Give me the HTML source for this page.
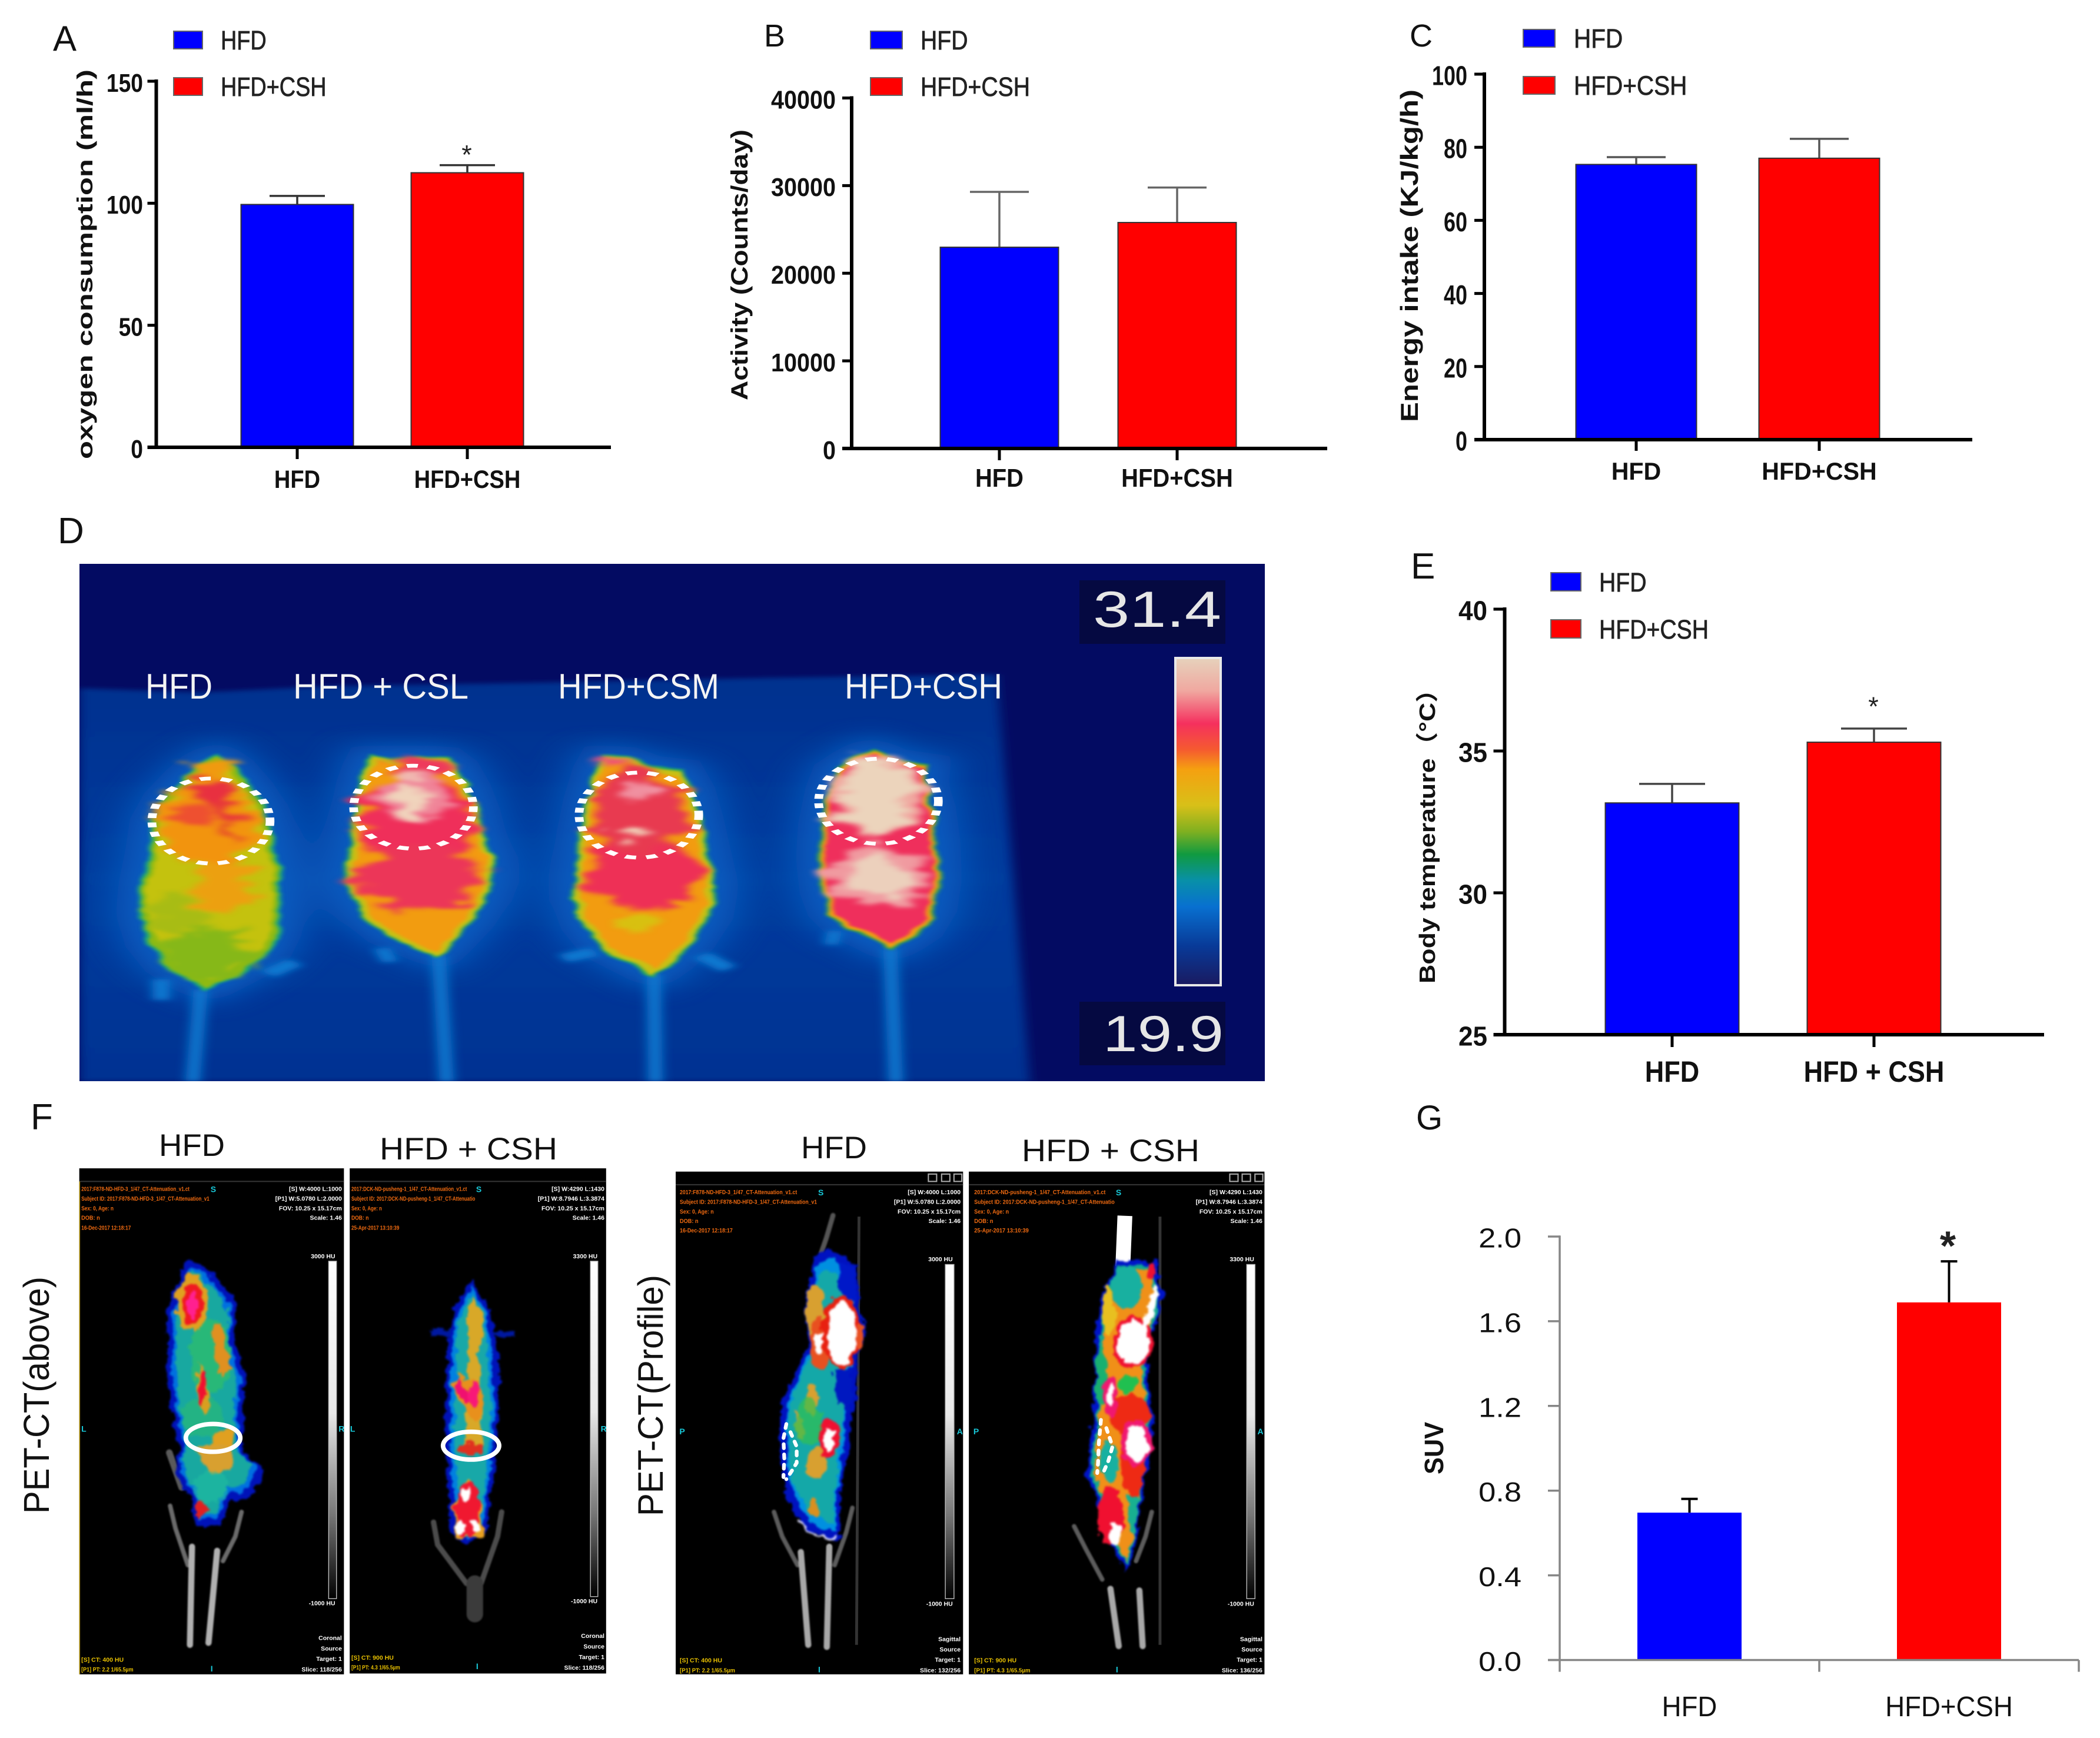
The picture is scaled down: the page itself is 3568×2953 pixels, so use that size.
<!DOCTYPE html>
<html lang="en">
<head>
<meta charset="utf-8">
<title>HFD and CSH metabolic panels</title>
<style>
html,body{margin:0;padding:0;background:#fff;}
svg{display:block;}
text{font-family:"Liberation Sans","Noto Sans CJK SC",sans-serif;}
</style>
</head>
<body>
<svg id="figure" xmlns="http://www.w3.org/2000/svg" width="3568" height="2953" viewBox="0 0 3568 2953">
<defs>
  <filter id="b2" filterUnits="userSpaceOnUse" x="-500" y="-500" width="4000" height="4000"><feGaussianBlur stdDeviation="2"/></filter>
  <filter id="b4" filterUnits="userSpaceOnUse" x="-500" y="-500" width="4000" height="4000"><feGaussianBlur stdDeviation="4"/></filter>
  <filter id="b7" filterUnits="userSpaceOnUse" x="-500" y="-500" width="4000" height="4000"><feGaussianBlur stdDeviation="7"/></filter>
  <filter id="b28" filterUnits="userSpaceOnUse" x="-500" y="-500" width="4000" height="4000"><feGaussianBlur stdDeviation="28"/></filter>
  <filter id="rough" filterUnits="userSpaceOnUse" x="0" y="300" width="1400" height="1300" color-interpolation-filters="sRGB">
    <feTurbulence type="fractalNoise" baseFrequency=".012 .022" numOctaves="3" seed="7" result="n"/>
    <feDisplacementMap in="SourceGraphic" in2="n" scale="18" xChannelSelector="R" yChannelSelector="G"/>
    <feGaussianBlur stdDeviation="3"/>
  </filter>
  <filter id="fur" filterUnits="userSpaceOnUse" x="0" y="300" width="1400" height="1300" color-interpolation-filters="sRGB">
    <feTurbulence type="fractalNoise" baseFrequency=".02 .035" numOctaves="3" seed="11" result="n"/>
    <feDisplacementMap in="SourceGraphic" in2="n" scale="75" xChannelSelector="R" yChannelSelector="G"/>
    <feGaussianBlur stdDeviation="5"/>
  </filter>
  <filter id="petr" filterUnits="userSpaceOnUse" x="100" y="150" width="1500" height="1300" color-interpolation-filters="sRGB">
    <feTurbulence type="fractalNoise" baseFrequency=".04" numOctaves="3" seed="3" result="n"/>
    <feDisplacementMap in="SourceGraphic" in2="n" scale="26" xChannelSelector="R" yChannelSelector="G"/>
    <feGaussianBlur stdDeviation="2.5"/>
  </filter>
  <linearGradient id="thermal-scale" x1="0" y1="0" x2="0" y2="1">
    <stop offset="0" stop-color="#e6d2bc"/><stop offset=".1" stop-color="#f0a8a0"/><stop offset=".2" stop-color="#f5305e"/>
    <stop offset=".28" stop-color="#f55a30"/><stop offset=".34" stop-color="#f5a010"/><stop offset=".45" stop-color="#d8c018"/>
    <stop offset=".53" stop-color="#80b020"/><stop offset=".6" stop-color="#109a40"/><stop offset=".68" stop-color="#0890a8"/>
    <stop offset=".76" stop-color="#0870d0"/><stop offset=".88" stop-color="#083a98"/><stop offset="1" stop-color="#1a1a60"/>
  </linearGradient>
  <linearGradient id="pet-scale" x1="0" y1="0" x2="0" y2="1">
    <stop offset="0" stop-color="#fff"/><stop offset=".45" stop-color="#e8e8e8"/><stop offset=".75" stop-color="#777"/><stop offset="1" stop-color="#000"/>
  </linearGradient>
  <linearGradient id="floor-blue" x1="0" y1="0" x2="0" y2="1">
    <stop offset="0" stop-color="#04308e"/><stop offset=".5" stop-color="#023c9e"/><stop offset="1" stop-color="#023292"/>
  </linearGradient>
  <clipPath id="thermal-clip"><rect x="135" y="958" width="2014" height="879"/></clipPath>
  <polygon id="m1" points="200,595 222,630 245,690 262,750 272,820 278,900 283,980 285,1060 280,1120 268,1175 245,1220 215,1255 190,1285 165,1260 135,1215 112,1150 100,1060 104,970 112,880 118,790 135,720 160,660 180,620"/>
  <polygon id="m2" points="395,600 420,610 455,598 490,605 505,630 520,690 532,760 540,830 552,900 553,960 545,1020 525,1090 500,1150 482,1190 450,1160 415,1125 385,1070 365,1000 362,940 368,850 372,770 380,680 388,630"/>
  <polygon id="m3" points="690,600 720,605 750,630 790,640 805,700 815,780 825,880 835,980 828,1070 805,1150 780,1205 755,1245 725,1210 690,1170 665,1100 652,1020 655,920 660,820 668,730 680,640"/>
  <polygon id="m4" points="1030,580 1060,610 1105,625 1100,680 1110,750 1116,850 1118,960 1112,1050 1095,1115 1075,1145 1055,1170 1030,1140 1000,1110 978,1060 968,1000 963,900 966,800 975,700 985,640 1005,610"/>
  <polygon id="p1" points="460,405 520,450 565,510 560,590 590,700 580,800 590,880 635,920 610,975 550,990 530,1050 480,1050 470,990 430,930 440,870 420,760 410,640 410,520"/>
  <polygon id="p2" points="1145,465 1180,520 1195,600 1205,750 1195,900 1185,980 1170,1070 1130,1092 1100,1070 1095,980 1085,900 1085,750 1090,600 1105,520"/>
  <polygon id="p3" points="470,380 535,420 540,520 552,590 530,650 525,750 510,850 490,1000 492,1085 420,1060 370,980 355,900 355,760 390,680 420,620 415,500 440,400"/>
  <polygon id="p4" points="1170,410 1260,410 1272,500 1245,600 1235,700 1252,800 1240,900 1220,1000 1210,1100 1188,1160 1130,1060 1112,960 1095,935 1110,800 1115,650 1130,500"/>
</defs>
<rect width="3568" height="2953" fill="#fff"/>

<g id="panel-a"></g>
<g id="panel-b"></g>
<g id="panel-c"></g>
<g id="panel-e"></g>
<g id="panel-g"></g>

<g fill="#111">
  <text x="90" y="86" font-size="60">A</text>
  <text x="1298" y="79" font-size="54">B</text>
  <text x="2395" y="79" font-size="54">C</text>
  <text x="98" y="923" font-size="62">D</text>
  <text x="2397" y="983" font-size="62">E</text>
  <text x="52" y="1919" font-size="62">F</text>
  <text x="2406" y="1919" font-size="58">G</text>
</g>

<!-- Panel D: thermal image -->
<g clip-path="url(#thermal-clip)">
  <rect x="135" y="958" width="2014" height="879" fill="#030b62"/>
  <g transform="translate(100,930) scale(1.339,.587)">
    <polygon points="26,408 180,420 340,402 600,392 900,378 1190,368 1232,1546 26,1546" fill="url(#floor-blue)" filter="url(#b7)"/>
    <g filter="url(#b28)" fill="#0868cc" stroke="#0868cc" stroke-width="56" opacity=".8">
      <use href="#m1"/><use href="#m2"/><use href="#m3"/><use href="#m4"/>
    </g>
    <g filter="url(#b7)" stroke="#0a78d0" fill="none" stroke-width="18">
      <line x1="180" y1="1280" x2="170" y2="1546"/><line x1="482" y1="1180" x2="492" y2="1546"/>
      <line x1="755" y1="1235" x2="757" y2="1546"/><line x1="1055" y1="1160" x2="1062" y2="1546"/>
      <line x1="265" y1="1235" x2="300" y2="1200" stroke-width="26"/><line x1="680" y1="1170" x2="640" y2="1190" stroke-width="26"/>
      <line x1="815" y1="1180" x2="850" y2="1220" stroke-width="26"/><line x1="130" y1="1250" x2="130" y2="1310" stroke-width="22"/>
      <line x1="410" y1="1160" x2="420" y2="1200" stroke-width="20"/><line x1="985" y1="1110" x2="980" y2="1150" stroke-width="18"/>
    </g>
    <g filter="url(#rough)">
      <use href="#m1" fill="#18a878"/>
      <use href="#m1" fill="#8fba12" transform="translate(192,950) scale(.95,.98) translate(-192,-950)"/>
      <use href="#m1" fill="#c4c20e" transform="translate(192,930) scale(.88,.92) translate(-192,-930)"/>
      <g filter="url(#fur)">
        <ellipse cx="190" cy="1175" rx="62" ry="70" fill="#86b818"/>
        <ellipse cx="150" cy="1060" rx="28" ry="70" fill="#a8bc14"/>
        <ellipse cx="195" cy="655" rx="26" ry="50" fill="#f09a10"/>
        <ellipse cx="190" cy="800" rx="68" ry="115" fill="#f2940e"/>
        <ellipse cx="212" cy="985" rx="36" ry="80" fill="#eca010"/>
        <ellipse cx="195" cy="710" rx="26" ry="36" fill="#e83040"/>
        <ellipse cx="172" cy="775" rx="24" ry="30" fill="#ee5030"/>
        <ellipse cx="215" cy="755" rx="18" ry="28" fill="#e83a38"/>
        <ellipse cx="214" cy="825" rx="12" ry="26" fill="#e85028"/>
      </g>
    </g>
    <g filter="url(#rough)">
      <use href="#m2" fill="#20a860"/>
      <use href="#m2" fill="#c8c014" transform="translate(458,900) scale(.96,.98) translate(-458,-900)"/>
      <use href="#m2" fill="#f29c10" transform="translate(458,890) scale(.88,.93) translate(-458,-890)"/>
      <g filter="url(#fur)">
        <ellipse cx="455" cy="640" rx="40" ry="36" fill="#ee3a5c"/>
        <ellipse cx="455" cy="790" rx="74" ry="125" fill="#ef2f5a"/>
        <ellipse cx="460" cy="955" rx="78" ry="90" fill="#ec3658"/>
        <ellipse cx="450" cy="720" rx="46" ry="70" fill="#f08498"/>
        <ellipse cx="445" cy="740" rx="22" ry="46" fill="#f0d4bc"/>
        <ellipse cx="440" cy="660" rx="34" ry="18" fill="#f0b8b0"/>
      </g>
    </g>
    <g filter="url(#rough)">
      <use href="#m3" fill="#20a860"/>
      <use href="#m3" fill="#c8c014" transform="translate(740,920) scale(.96,.98) translate(-740,-920)"/>
      <use href="#m3" fill="#f29c10" transform="translate(740,910) scale(.88,.93) translate(-740,-910)"/>
      <g filter="url(#fur)">
        <ellipse cx="745" cy="950" rx="72" ry="100" fill="#ee3056"/>
        <ellipse cx="735" cy="770" rx="60" ry="125" fill="#e83a50"/>
        <ellipse cx="705" cy="625" rx="20" ry="16" fill="#f05078"/>
        <ellipse cx="740" cy="710" rx="22" ry="28" fill="#f090a0"/>
        <ellipse cx="735" cy="832" rx="26" ry="20" fill="#f0d0b8"/>
        <ellipse cx="735" cy="1090" rx="24" ry="28" fill="#d8c010"/>
      </g>
    </g>
    <g filter="url(#rough)">
      <use href="#m4" fill="#30a840"/>
      <use href="#m4" fill="#f0a010" transform="translate(1040,880) scale(.96,.98) translate(-1040,-880)"/>
      <use href="#m4" fill="#ef2f5c" transform="translate(1040,860) scale(.9,.94) translate(-1040,-860)"/>
      <g filter="url(#fur)">
        <ellipse cx="1037" cy="720" rx="60" ry="115" fill="#f0a8a0"/>
        <ellipse cx="1037" cy="730" rx="42" ry="105" fill="#ecd4bc"/>
        <ellipse cx="1040" cy="950" rx="62" ry="85" fill="#f09aa0"/>
        <ellipse cx="1038" cy="950" rx="34" ry="60" fill="#ecd0bc"/>
      </g>
    </g>
    <g fill="none" stroke="#fff" stroke-width="11" stroke-dasharray="14 13">
      <ellipse cx="193" cy="792" rx="75" ry="123"/>
      <ellipse cx="450" cy="752" rx="76" ry="120"/>
      <ellipse cx="736" cy="775" rx="76" ry="123"/>
      <ellipse cx="1040" cy="735" rx="76" ry="123"/>
    </g>
  </g>
  <g fill="#f4f4f4" font-size="60">
    <text x="247" y="1187" textLength="114" lengthAdjust="spacingAndGlyphs">HFD</text>
    <text x="498" y="1187" textLength="298" lengthAdjust="spacingAndGlyphs">HFD + CSL</text>
    <text x="948" y="1187" textLength="274" lengthAdjust="spacingAndGlyphs">HFD+CSM</text>
    <text x="1435" y="1187" textLength="268" lengthAdjust="spacingAndGlyphs">HFD+CSH</text>
  </g>
  <rect x="1834" y="986" width="248" height="108" fill="#06093c" opacity=".85"/>
  <text x="1857" y="1065" font-size="86" fill="#e6e6e6" textLength="218" lengthAdjust="spacingAndGlyphs">31.4</text>
  <rect x="1997" y="1118" width="77" height="556" fill="url(#thermal-scale)" stroke="#e8e8e8" stroke-width="4"/>
  <rect x="1834" y="1702" width="248" height="108" fill="#06093c" opacity=".85"/>
  <text x="1874" y="1786" font-size="86" fill="#e6e6e6" textLength="205" lengthAdjust="spacingAndGlyphs">19.9</text>
</g>

<!-- Panel F labels -->
<g fill="#111">
  <text x="270" y="1964" font-size="53" textLength="112" lengthAdjust="spacingAndGlyphs">HFD</text>
  <text x="645" y="1970" font-size="53" textLength="302" lengthAdjust="spacingAndGlyphs">HFD + CSH</text>
  <text x="1361" y="1968" font-size="53" textLength="112" lengthAdjust="spacingAndGlyphs">HFD</text>
  <text x="1736" y="1973" font-size="53" textLength="302" lengthAdjust="spacingAndGlyphs">HFD + CSH</text>
  <text transform="translate(83,2572) rotate(-90)" font-size="61" textLength="403" lengthAdjust="spacingAndGlyphs">PET-CT(above)</text>
  <text transform="translate(1126,2576) rotate(-90)" font-size="60" textLength="410" lengthAdjust="spacingAndGlyphs">PET-CT(Profile)</text>
</g>

<!-- Panel F: coronal scans -->
<g transform="translate(0,1860) scale(.7015,.695)">
  <rect x="192" y="180" width="641" height="1237" fill="#000"/>
  <rect x="847" y="180" width="621" height="1235" fill="#000"/>
  <line x1="193" y1="212" x2="833" y2="212" stroke="#333" stroke-width="3"/><line x1="847" y1="212" x2="1468" y2="212" stroke="#333" stroke-width="3"/>
  <line x1="193" y1="212" x2="193" y2="1417" stroke="#b09000" stroke-width="2"/>
  <g filter="url(#b2)" fill="none" stroke-linecap="round">
    <polyline points="412,1005 425,1060 455,1150" stroke="#6a6a6a" stroke-width="11"/>
    <polyline points="585,1020 570,1080 540,1140" stroke="#6a6a6a" stroke-width="11"/>
    <line x1="465" y1="1105" x2="460" y2="1345" stroke="#b0b0b0" stroke-width="15"/>
    <line x1="526" y1="1115" x2="505" y2="1340" stroke="#b0b0b0" stroke-width="15"/>
    <line x1="410" y1="875" x2="440" y2="960" stroke="#5a5a5a" stroke-width="16"/>
  </g>
  <g filter="url(#petr)">
    <use href="#p1" fill="#0012b8" stroke="#0012b8" stroke-width="12"/>
    <use href="#p1" fill="#0070e0" transform="translate(500,730) scale(.92,.96) translate(-500,-730)"/>
    <use href="#p1" fill="#18a8a0" transform="translate(500,730) scale(.82,.92) translate(-500,-730)"/>
    <ellipse cx="510" cy="640" rx="50" ry="90" fill="#28b878"/>
    <ellipse cx="490" cy="790" rx="50" ry="50" fill="#28b878" opacity=".7"/>
    <ellipse cx="465" cy="510" rx="40" ry="68" fill="#e0a020"/>
    <ellipse cx="465" cy="512" rx="26" ry="52" fill="#f01820"/>
    <ellipse cx="465" cy="512" rx="11" ry="38" fill="#ff2090"/>
    <polygon points="515,580 535,560 545,620 565,660 535,690 520,640" fill="#e09020"/>
    <polygon points="480,650 500,700 510,770 495,785 475,720" fill="#d8a020"/>
    <ellipse cx="490" cy="715" rx="9" ry="40" fill="#f01030"/>
    <polygon points="470,860 560,840 565,915 515,930 495,905" fill="#d8a030"/>
    <polygon points="515,830 565,820 560,860 510,860" fill="#e0a020"/>
    <ellipse cx="486" cy="1012" rx="14" ry="20" fill="#e02020"/>
    <ellipse cx="510" cy="960" rx="45" ry="40" fill="#20c0a0" opacity=".5"/>
  </g>
  <g filter="url(#b2)" fill="none" stroke="#4c4c4c" stroke-linecap="round">
    <polyline points="1050,1045 1060,1100 1130,1195" stroke-width="13"/>
    <polyline points="1215,1020 1205,1080 1165,1195" stroke-width="13"/>
    <line x1="1150" y1="1195" x2="1150" y2="1270" stroke="#3a3a3a" stroke-width="40"/>
  </g>
  <g filter="url(#petr)">
    <line x1="1045" y1="580" x2="1250" y2="585" stroke="#0018a0" stroke-width="12"/>
    <use href="#p2" fill="#0012b8" stroke="#0012b8" stroke-width="12"/>
    <use href="#p2" fill="#0080e0" transform="translate(1145,780) scale(.9,.98) translate(-1145,-780)"/>
    <use href="#p2" fill="#18a8a8" transform="translate(1145,780) scale(.72,.94) translate(-1145,-780)"/>
    <polygon points="1145,490 1170,550 1160,640 1165,800 1170,860 1125,860 1130,800 1135,640 1130,550" fill="#d8a828"/>
    <polygon points="1108,680 1125,700 1150,690 1175,740 1155,800 1115,760 1098,710" fill="#e8901c"/>
    <polygon points="1105,690 1125,710 1140,740 1128,755 1105,720" fill="#f01070"/>
    <ellipse cx="1148" cy="735" rx="14" ry="34" fill="#f81878"/>
    <ellipse cx="1140" cy="865" rx="30" ry="15" fill="#e03020"/>
    <polygon points="1130,940 1165,1000 1172,1080 1105,1080 1098,1000" fill="#e8a020"/>
    <ellipse cx="1133" cy="1015" rx="30" ry="66" fill="#f01830"/>
    <ellipse cx="1127" cy="978" rx="14" ry="16" fill="#fff"/>
    <ellipse cx="1115" cy="1057" rx="11" ry="15" fill="#fff"/>
    <ellipse cx="1150" cy="1052" rx="11" ry="15" fill="#fff"/>
  </g>
  <ellipse cx="516" cy="839" rx="66" ry="34" fill="none" stroke="#fff" stroke-width="11"/>
  <ellipse cx="1141" cy="858" rx="68" ry="34" fill="none" stroke="#fff" stroke-width="11"/>
  <rect x="796" y="407" width="19" height="825" fill="url(#pet-scale)" stroke="#bbb" stroke-width="2"/>
  <rect x="1430" y="407" width="18" height="820" fill="url(#pet-scale)" stroke="#bbb" stroke-width="2"/>
  <g font-size="15" font-weight="bold">
    <g fill="#f06a10">
      <text x="197" y="235" textLength="262" lengthAdjust="spacingAndGlyphs">2017:F878-ND-HFD-3_1/47_CT-Attenuation_v1.ct</text>
      <text x="197" y="259" textLength="310" lengthAdjust="spacingAndGlyphs">Subject ID: 2017:F878-ND-HFD-3_1/47_CT-Attenuation_v1</text>
      <text x="197" y="283" textLength="78" lengthAdjust="spacingAndGlyphs">Sex: 0, Age: n</text>
      <text x="197" y="306" textLength="45" lengthAdjust="spacingAndGlyphs">DOB: n</text>
      <text x="197" y="330" textLength="120" lengthAdjust="spacingAndGlyphs">16-Dec-2017 12:18:17</text>
    </g>
    <g fill="#fff" text-anchor="end">
      <text x="828" y="235">[S] W:4000 L:1000</text>
      <text x="828" y="259">[P1] W:5.0780 L:2.0000</text>
      <text x="828" y="283">FOV: 10.25 x 15.17cm</text>
      <text x="828" y="306">Scale: 1.46</text>
      <text x="828" y="1333">Coronal</text><text x="828" y="1359">Source</text><text x="828" y="1384">Target: 1</text><text x="828" y="1410">Slice: 118/256</text>
      <text x="812" y="400">3000 HU</text><text x="812" y="1248">-1000 HU</text>
    </g>
    <g fill="#e8c000">
      <text x="197" y="1386">[S] CT: 400 HU</text>
      <text x="197" y="1410" textLength="126" lengthAdjust="spacingAndGlyphs">[P1] PT: 2.2 1/65.5µm</text>
    </g>
  </g>
  <g font-size="15" font-weight="bold">
    <g fill="#f06a10">
      <text x="851" y="235" textLength="280" lengthAdjust="spacingAndGlyphs">2017:DCK-ND-pusheng-1_1/47_CT-Attenuation_v1.ct</text>
      <text x="851" y="259" textLength="300" lengthAdjust="spacingAndGlyphs">Subject ID: 2017:DCK-ND-pusheng-1_1/47_CT-Attenuatio</text>
      <text x="851" y="283" textLength="74" lengthAdjust="spacingAndGlyphs">Sex: 0, Age: n</text>
      <text x="851" y="306" textLength="42" lengthAdjust="spacingAndGlyphs">DOB: n</text>
      <text x="851" y="330" textLength="116" lengthAdjust="spacingAndGlyphs">25-Apr-2017 13:10:39</text>
    </g>
    <g fill="#fff" text-anchor="end">
      <text x="1464" y="235">[S] W:4290 L:1430</text>
      <text x="1464" y="259">[P1] W:8.7946 L:3.3874</text>
      <text x="1464" y="283">FOV: 10.25 x 15.17cm</text>
      <text x="1464" y="306">Scale: 1.46</text>
      <text x="1464" y="1328">Coronal</text><text x="1464" y="1354">Source</text><text x="1464" y="1380">Target: 1</text><text x="1464" y="1406">Slice: 118/256</text>
      <text x="1447" y="400">3300 HU</text><text x="1447" y="1243">-1000 HU</text>
    </g>
    <g fill="#e8c000">
      <text x="851" y="1381">[S] CT: 900 HU</text>
      <text x="851" y="1405" textLength="118" lengthAdjust="spacingAndGlyphs">[P1] PT: 4.3 1/65.5µm</text>
    </g>
  </g>
  <g fill="#18c8d8" font-size="20" font-weight="bold">
    <text x="510" y="238">S</text><text x="1153" y="238">S</text><text x="197" y="824">L</text><text x="820" y="824">R</text>
    <text x="848" y="824">L</text><text x="1455" y="824">R</text><text x="510" y="1410">I</text><text x="1153" y="1404">I</text>
  </g>
</g>

<!-- Panel F: profile scans -->
<g transform="translate(1080,1860) scale(.7015,.695)">
  <rect x="97" y="188" width="696" height="1229" fill="#000"/>
  <rect x="807" y="188" width="716" height="1229" fill="#000"/>
  <line x1="97" y1="220" x2="793" y2="220" stroke="#333" stroke-width="3"/><line x1="807" y1="220" x2="1523" y2="220" stroke="#333" stroke-width="3"/>
  <g fill="none" stroke="#aaa" stroke-width="3">
    <rect x="709" y="194" width="20" height="18"/><rect x="741" y="194" width="20" height="18"/><rect x="771" y="194" width="19" height="18"/>
    <rect x="1439" y="194" width="20" height="18"/><rect x="1469" y="194" width="20" height="18"/><rect x="1500" y="194" width="19" height="18"/>
  </g>
  <line x1="541" y1="298" x2="535" y2="1345" stroke="#333" stroke-width="7"/>
  <line x1="1270" y1="298" x2="1270" y2="1345" stroke="#333" stroke-width="7"/>
  <g filter="url(#b2)" fill="none" stroke-linecap="round">
    <polyline points="478,295 462,350 450,385" stroke="#555" stroke-width="12"/>
    <polyline points="335,1020 355,1080 392,1150" stroke="#5c5c5c" stroke-width="11"/>
    <polyline points="525,1010 510,1070 482,1150" stroke="#5c5c5c" stroke-width="11"/>
    <line x1="400" y1="1118" x2="418" y2="1345" stroke="#a8a8a8" stroke-width="15"/>
    <line x1="469" y1="1105" x2="463" y2="1350" stroke="#a8a8a8" stroke-width="15"/>
  </g>
  <g filter="url(#petr)">
    <use href="#p3" fill="#0012c0" stroke="#0012c0" stroke-width="10"/>
    <use href="#p3" fill="#0090e0" transform="translate(450,760) scale(.9,.96) translate(-450,-760)"/>
    <use href="#p3" fill="#14a8a8" transform="translate(440,800) scale(.82,.88) translate(-440,-800)"/>
    <polygon points="490,400 535,420 535,510 490,480" fill="#0018c8"/>
    <polygon points="475,670 525,670 520,780 490,740" fill="#0018c0"/>
    <ellipse cx="435" cy="530" rx="22" ry="70" fill="#d8a030"/>
    <ellipse cx="445" cy="610" rx="24" ry="62" fill="#e85020"/>
    <ellipse cx="445" cy="605" rx="10" ry="28" fill="#fff"/>
    <ellipse cx="498" cy="580" rx="48" ry="90" fill="#e82010"/>
    <ellipse cx="498" cy="582" rx="34" ry="80" fill="#fff"/>
    <ellipse cx="542" cy="592" rx="10" ry="30" fill="#e85020"/>
    <ellipse cx="428" cy="750" rx="16" ry="40" fill="#d8a030"/>
    <polygon points="385,770 405,800 410,840 395,835" fill="#d8a030"/>
    <ellipse cx="468" cy="840" rx="26" ry="48" fill="#f01030"/>
    <ellipse cx="470" cy="842" rx="12" ry="28" fill="#fff"/>
    <ellipse cx="437" cy="905" rx="26" ry="40" fill="#d8a030"/>
    <ellipse cx="432" cy="1010" rx="13" ry="22" fill="#d89020"/>
    <ellipse cx="420" cy="800" rx="30" ry="60" fill="#30c050" opacity=".7"/>
    <polyline points="395,1040 440,1080 490,1082" fill="none" stroke="#e0e0ff" stroke-width="6"/>
  </g>
  <g filter="url(#b2)" fill="none" stroke-linecap="round">
    <polyline points="1062,1055 1090,1110 1130,1185" stroke="#5c5c5c" stroke-width="11"/>
    <polyline points="1250,1020 1235,1080 1212,1140" stroke="#5c5c5c" stroke-width="11"/>
    <line x1="1150" y1="1208" x2="1170" y2="1348" stroke="#a8a8a8" stroke-width="15"/>
    <line x1="1220" y1="1212" x2="1228" y2="1348" stroke="#a8a8a8" stroke-width="15"/>
  </g>
  <line x1="1185" y1="296" x2="1180" y2="420" stroke="#fff" stroke-width="36"/>
  <g filter="url(#petr)">
    <use href="#p4" fill="#0014c8" stroke="#0014c8" stroke-width="8"/>
    <use href="#p4" fill="#10a890" transform="translate(1180,780) scale(.94,.98) translate(-1180,-780)"/>
    <use href="#p4" fill="#f09018" transform="translate(1180,790) scale(.84,.95) translate(-1180,-790)"/>
    <ellipse cx="1190" cy="470" rx="36" ry="52" fill="#18b0a0"/>
    <ellipse cx="1128" cy="690" rx="14" ry="70" fill="#18b070"/>
    <ellipse cx="1192" cy="706" rx="22" ry="22" fill="#20c050"/>
    <ellipse cx="1145" cy="900" rx="22" ry="50" fill="#18b0a0"/>
    <ellipse cx="1205" cy="1020" rx="12" ry="50" fill="#18b090"/>
    <ellipse cx="1195" cy="780" rx="50" ry="50" fill="#ee2a14"/>
    <ellipse cx="1205" cy="900" rx="30" ry="80" fill="#ee2a14"/>
    <ellipse cx="1205" cy="605" rx="50" ry="62" fill="#f01030"/>
    <ellipse cx="1205" cy="605" rx="40" ry="54" fill="#fff"/>
    <polygon points="1225,570 1255,470 1268,480 1252,540 1235,575" fill="#fff"/>
    <ellipse cx="1250" cy="430" rx="12" ry="22" fill="#f01030"/>
    <ellipse cx="1213" cy="850" rx="38" ry="56" fill="#f01870"/>
    <ellipse cx="1213" cy="850" rx="28" ry="44" fill="#fff"/>
    <ellipse cx="1150" cy="735" rx="18" ry="50" fill="#f01870"/>
    <ellipse cx="1150" cy="735" rx="9" ry="30" fill="#fff"/>
    <ellipse cx="1150" cy="1030" rx="32" ry="70" fill="#f01030"/>
    <ellipse cx="1160" cy="1070" rx="15" ry="30" fill="#fff"/>
    <ellipse cx="1145" cy="530" rx="14" ry="60" fill="#e8c020"/>
  </g>
  <g fill="none" stroke="#fff" stroke-width="9" stroke-dasharray="10 15" stroke-linecap="round">
    <polyline points="365,805 358,840 360,890 358,935"/><polyline points="375,825 390,860 390,900 378,920 365,940"/>
  </g>
  <g fill="none" stroke="#fff" stroke-width="9" stroke-dasharray="10 15" stroke-linecap="round">
    <polyline points="1127,795 1122,850 1120,900 1118,925"/><polyline points="1140,815 1155,860 1145,895 1130,930"/>
  </g>
  <rect x="750" y="415" width="21" height="817" fill="url(#pet-scale)" stroke="#bbb" stroke-width="2"/>
  <rect x="1480" y="415" width="20" height="817" fill="url(#pet-scale)" stroke="#bbb" stroke-width="2"/>
  <g font-size="15" font-weight="bold">
    <g fill="#f06a10">
      <text x="107" y="243" textLength="284" lengthAdjust="spacingAndGlyphs">2017:F878-ND-HFD-3_1/47_CT-Attenuation_v1.ct</text>
      <text x="107" y="267" textLength="332" lengthAdjust="spacingAndGlyphs">Subject ID: 2017:F878-ND-HFD-3_1/47_CT-Attenuation_v1</text>
      <text x="107" y="291" textLength="82" lengthAdjust="spacingAndGlyphs">Sex: 0, Age: n</text>
      <text x="107" y="314" textLength="45" lengthAdjust="spacingAndGlyphs">DOB: n</text>
      <text x="107" y="337" textLength="128" lengthAdjust="spacingAndGlyphs">16-Dec-2017 12:18:17</text>
    </g>
    <g fill="#fff" text-anchor="end">
      <text x="787" y="243">[S] W:4000 L:1000</text>
      <text x="787" y="267">[P1] W:5.0780 L:2.0000</text>
      <text x="787" y="291">FOV: 10.25 x 15.17cm</text>
      <text x="787" y="314">Scale: 1.46</text>
      <text x="787" y="1336">Sagittal</text><text x="787" y="1361">Source</text><text x="787" y="1386">Target: 1</text><text x="787" y="1412">Slice: 132/256</text>
      <text x="768" y="407">3000 HU</text><text x="768" y="1250">-1000 HU</text>
    </g>
    <g fill="#e8c000">
      <text x="107" y="1388">[S] CT: 400 HU</text>
      <text x="107" y="1412" textLength="134" lengthAdjust="spacingAndGlyphs">[P1] PT: 2.2 1/65.5µm</text>
    </g>
  </g>
  <g font-size="15" font-weight="bold">
    <g fill="#f06a10">
      <text x="820" y="243" textLength="318" lengthAdjust="spacingAndGlyphs">2017:DCK-ND-pusheng-1_1/47_CT-Attenuation_v1.ct</text>
      <text x="820" y="267" textLength="340" lengthAdjust="spacingAndGlyphs">Subject ID: 2017:DCK-ND-pusheng-1_1/47_CT-Attenuatio</text>
      <text x="820" y="291" textLength="84" lengthAdjust="spacingAndGlyphs">Sex: 0, Age: n</text>
      <text x="820" y="314" textLength="46" lengthAdjust="spacingAndGlyphs">DOB: n</text>
      <text x="820" y="337" textLength="132" lengthAdjust="spacingAndGlyphs">25-Apr-2017 13:10:39</text>
    </g>
    <g fill="#fff" text-anchor="end">
      <text x="1518" y="243">[S] W:4290 L:1430</text>
      <text x="1518" y="267">[P1] W:8.7946 L:3.3874</text>
      <text x="1518" y="291">FOV: 10.25 x 15.17cm</text>
      <text x="1518" y="314">Scale: 1.46</text>
      <text x="1518" y="1336">Sagittal</text><text x="1518" y="1361">Source</text><text x="1518" y="1386">Target: 1</text><text x="1518" y="1412">Slice: 136/256</text>
      <text x="1498" y="407">3300 HU</text><text x="1498" y="1250">-1000 HU</text>
    </g>
    <g fill="#e8c000">
      <text x="820" y="1388">[S] CT: 900 HU</text>
      <text x="820" y="1412" textLength="136" lengthAdjust="spacingAndGlyphs">[P1] PT: 4.3 1/65.5µm</text>
    </g>
  </g>
  <g fill="#18c8d8" font-size="20" font-weight="bold">
    <text x="442" y="246">S</text><text x="1163" y="246">S</text><text x="106" y="830">P</text><text x="778" y="830">A</text>
    <text x="818" y="830">P</text><text x="1506" y="830">A</text><text x="442" y="1412">I</text><text x="1163" y="1412">I</text>
  </g>
</g>
</svg>

<script>
// Panel A: oxygen consumption
const groupsA = ['HFD', 'HFD+CSH'];
const meansA = [99.5, 112.5];
const errorTopsA = [103, 115.6];
const yTicksA = [0, 50, 100, 150];
const yTickLabelsA = ['0', '50', '100', '150'];
const sigMarksA = ['', '*'];

// Panel B: activity
const groupsB = ['HFD', 'HFD+CSH'];
const meansB = [22970, 25790];
const errorTopsB = [29290, 29780];
const yTicksB = [0, 10000, 20000, 30000, 40000];
const yTickLabelsB = ['0', '10000', '20000', '30000', '40000'];
const sigMarksB = ['', ''];

// Panel C: energy intake
const groupsC = ['HFD', 'HFD+CSH'];
const meansC = [75.3, 77];
const errorTopsC = [77.3, 82.3];
const yTicksC = [0, 20, 40, 60, 80, 100];
const yTickLabelsC = ['0', '20', '40', '60', '80', '100'];
const sigMarksC = ['', ''];

// Panel E: body temperature
const groupsE = ['HFD', 'HFD + CSH'];
const meansE = [33.17, 35.31];
const errorTopsE = [33.84, 35.79];
const yTicksE = [25, 30, 35, 40];
const yTickLabelsE = ['25', '30', '35', '40'];
const sigMarksE = ['', '*'];

// Panel G: SUV
const groupsG = ['HFD', 'HFD+CSH'];
const meansG = [0.696, 1.689];
const errorTopsG = [0.761, 1.883];
const yTicksG = [0, 0.4, 0.8, 1.2, 1.6, 2];
const yTickLabelsG = ['0.0', '0.4', '0.8', '1.2', '1.6', '2.0'];
const sigMarksG = ['', '*'];

const SVG_NS = 'http://www.w3.org/2000/svg';
const BAR_COLORS = ['#0000ff', '#ff0000'];

function add(parent, tag, attrs, text) {
  const el = document.createElementNS(SVG_NS, tag);
  for (const key in attrs) el.setAttribute(key, attrs[key]);
  if (text !== undefined) el.textContent = text;
  parent.appendChild(el);
  return el;
}

function squeeze(el, factor) {
  el.setAttribute('textLength', (el.getComputedTextLength() * factor).toFixed(1));
  el.setAttribute('lengthAdjust', 'spacingAndGlyphs');
}

function drawBarPanel(root, data, frame) {
  const yMin = data.ticks[0];
  const yMax = data.ticks[data.ticks.length - 1];
  const yScale = v => frame.yBase - (v - yMin) * (frame.yBase - frame.yTop) / (yMax - yMin);
  const xScale = i => frame.firstCenter + i * frame.step;

  // bars and error bars
  data.groups.forEach((group, i) => {
    const cx = xScale(i);
    const top = yScale(data.means[i]);
    const errY = yScale(data.errorTops[i]);
    const stem = add(root, 'line', { x1: cx, y1: top, x2: cx, y2: errY, stroke: frame.errorColor, 'stroke-width': frame.errorWidth });
    
    
    const cap = add(root, 'line', { x1: cx - frame.capHalf, y1: errY, x2: cx + frame.capHalf, y2: errY, stroke: frame.errorColor, 'stroke-width': frame.errorWidth });
    
    
    const bar = add(root, 'rect', { x: cx - frame.barWidth / 2, y: top, width: frame.barWidth, height: frame.yBase - top, fill: BAR_COLORS[i], stroke: frame.barStroke, 'stroke-width': frame.barStroke === 'none' ? 0 : 2 });
    
    
    if (data.sig[i]) {
      const star = add(root, 'text', { x: cx + frame.starDx, y: errY - frame.starGap + frame.starSize * 0.58, 'font-size': frame.starSize, 'font-weight': frame.starWeight, 'text-anchor': 'middle', fill: '#222' }, data.sig[i]);
      
      
    }
  });

  // y axis
  const yAxis = add(root, 'line', { x1: frame.axisX, y1: frame.yTop - frame.axisWidth / 2, x2: frame.axisX, y2: frame.yBase, stroke: frame.axisColor, 'stroke-width': frame.axisWidth });
  
  
  data.ticks.forEach((t, i) => {
    const y = yScale(t);
    const tick = add(root, 'line', { x1: frame.axisX - frame.tickLen, y1: y, x2: frame.axisX, y2: y, stroke: frame.axisColor, 'stroke-width': frame.tickWidth });
    
    
    const str = data.tickLabels[i];
    const w = str.length * frame.tickCharWidth;
    const label = add(root, 'text', { x: frame.tickRight - w, y: y + frame.tickSize * 0.358 + 2, 'font-size': frame.tickSize, 'font-weight': frame.tickWeight, fill: '#111', textLength: w, lengthAdjust: 'spacingAndGlyphs' }, str);
    
    
  });

  // x axis
  const xAxis = add(root, 'line', { x1: frame.axisX - frame.tickLen, y1: frame.yBase, x2: frame.xEnd, y2: frame.yBase, stroke: frame.axisColor, 'stroke-width': frame.axisWidth });
  
  
  const xTickPositions = frame.boundaryTicks
    ? [0, 1, 2].map(k => frame.axisX + k * (frame.xEnd - frame.axisX) / 2)
    : data.groups.map((g, i) => xScale(i));
  xTickPositions.forEach(x => {
    const tick = add(root, 'line', { x1: x, y1: frame.yBase, x2: x, y2: frame.yBase + frame.xTickLen, stroke: frame.axisColor, 'stroke-width': frame.tickWidth });
    
    
  });
  data.groups.forEach((group, i) => {
    const label = add(root, 'text', { x: xScale(i), y: frame.xLabelY, 'font-size': frame.xLabelSize, 'font-weight': frame.xLabelWeight, 'text-anchor': 'middle', fill: '#111' }, group);
    
    
    squeeze(label, frame.xLabelStretch);
  });

  // y title
  const title = add(root, 'text', { transform: 'translate(' + frame.titleX + ',' + frame.titleBottom + ') rotate(-90)', 'font-size': frame.titleSize, 'font-weight': 'bold', fill: '#111', textLength: frame.titleLength, lengthAdjust: 'spacingAndGlyphs' }, frame.title);
  
  

  // legend
  if (frame.legendX !== undefined) {
    data.groups.forEach((group, i) => {
      const entry = add(root, 'g', {});
      
      
      const swatch = add(entry, 'rect', { x: frame.legendX, y: frame.legendY + i * frame.legendStep, width: frame.swatchW, height: frame.swatchH, fill: BAR_COLORS[i], stroke: '#666', 'stroke-width': 2 });
      
      
      const text = add(entry, 'text', { x: frame.legendTextX, y: frame.legendY + i * frame.legendStep + frame.swatchH + 1, 'font-size': 45, fill: '#222', stroke: '#222', 'stroke-width': 0.8 }, frame.legendLabels[i]);
      
      
      squeeze(text, frame.legendStretch);
    });
  }
}

const graphPad = { barStroke: '#333', axisColor: '#000', axisWidth: 6, tickWidth: 5, starDx: -1, starSize: 45, starWeight: 'normal', tickWeight: 'bold', xLabelWeight: 'bold', errorWidth: 3.5, legendLabels: ['HFD', 'HFD+CSH'] };

drawBarPanel(document.getElementById('panel-a'),
  { groups: groupsA, means: meansA, errorTops: errorTopsA, ticks: yTicksA, tickLabels: yTickLabelsA, sig: sigMarksA },
  Object.assign({}, graphPad, { axisX: 265.5, yTop: 138, yBase: 760, xEnd: 1038, firstCenter: 505, step: 289, barWidth: 191, capHalf: 47, errorColor: '#333', tickLen: 15, xTickLen: 20, tickRight: 243, tickCharWidth: 20.7, tickSize: 44, xLabelY: 829, xLabelSize: 43, xLabelStretch: .885, starGap: 28, title: 'oxygen consumption (ml/h)', titleX: 157, titleBottom: 780, titleSize: 37, titleLength: 662, legendX: 295, legendY: 53, legendStep: 79, swatchW: 49, swatchH: 30, legendTextX: 375, legendStretch: .84 }));

drawBarPanel(document.getElementById('panel-b'),
  { groups: groupsB, means: meansB, errorTops: errorTopsB, ticks: yTicksB, tickLabels: yTickLabelsB, sig: sigMarksB },
  Object.assign({}, graphPad, { axisX: 1447, yTop: 166.5, yBase: 762, xEnd: 2255, firstCenter: 1698, step: 302, barWidth: 201, capHalf: 50, errorColor: '#666', tickLen: 16, xTickLen: 20, tickRight: 1420, tickCharWidth: 22, tickSize: 44, xLabelY: 827, xLabelSize: 44, xLabelStretch: .908, starGap: 28, title: 'Activity  (Counts/day)', titleX: 1270, titleBottom: 680, titleSize: 40, titleLength: 460, legendX: 1479, legendY: 53, legendStep: 79, swatchW: 54, swatchH: 30, legendTextX: 1564, legendStretch: .87 }));

drawBarPanel(document.getElementById('panel-c'),
  { groups: groupsC, means: meansC, errorTops: errorTopsC, ticks: yTicksC, tickLabels: yTickLabelsC, sig: sigMarksC },
  Object.assign({}, graphPad, { axisX: 2522, yTop: 126, yBase: 747, xEnd: 3351, firstCenter: 2780, step: 311, barWidth: 205, capHalf: 50, errorColor: '#555', tickLen: 17, xTickLen: 19, tickRight: 2493, tickCharWidth: 20, tickSize: 46, xLabelY: 815, xLabelSize: 42, xLabelStretch: .98, starGap: 28, title: 'Energy intake (KJ/kg/h)', titleX: 2409, titleBottom: 717, titleSize: 42, titleLength: 565, legendX: 2588, legendY: 50, legendStep: 80, swatchW: 54, swatchH: 30, legendTextX: 2674, legendStretch: .9 }));

drawBarPanel(document.getElementById('panel-e'),
  { groups: groupsE, means: meansE, errorTops: errorTopsE, ticks: yTicksE, tickLabels: yTickLabelsE, sig: sigMarksE },
  Object.assign({}, graphPad, { axisX: 2556.5, yTop: 1035, yBase: 1758, xEnd: 3473, firstCenter: 2841, step: 343, barWidth: 227, capHalf: 56, errorColor: '#444', tickLen: 19, xTickLen: 21, tickRight: 2527, tickCharWidth: 24.5, tickSize: 46, xLabelY: 1838, xLabelSize: 50, xLabelStretch: .9, starGap: 48, title: 'Body temperature（°C）', titleX: 2438, titleBottom: 1671, titleSize: 38, titleLength: 522, legendX: 2635, legendY: 973, legendStep: 80, swatchW: 51, swatchH: 31, legendTextX: 2717, legendStretch: .87, legendLabels: ['HFD', 'HFD+CSH'] }));

drawBarPanel(document.getElementById('panel-g'),
  { groups: groupsG, means: meansG, errorTops: errorTopsG, ticks: yTicksG, tickLabels: yTickLabelsG, sig: sigMarksG },
  { barStroke: 'none', axisColor: '#868686', axisWidth: 3.5, tickWidth: 3.5, starDx: -2, starSize: 70, starWeight: 'bold', tickWeight: 'normal', xLabelWeight: 'normal', errorWidth: 4, axisX: 2650, yTop: 2101, yBase: 2820.5, xEnd: 3532, firstCenter: 2870.5, step: 441, barWidth: 177, capHalf: 14, errorColor: '#000', tickLen: 20, xTickLen: 20, boundaryTicks: true, tickRight: 2585, tickCharWidth: 24.3, tickSize: 46, xLabelY: 2916, xLabelSize: 48, xLabelStretch: .95, starGap: 43, title: 'SUV', titleX: 2452, titleBottom: 2505, titleSize: 45, titleLength: 89 });
</script>
</body>
</html>
